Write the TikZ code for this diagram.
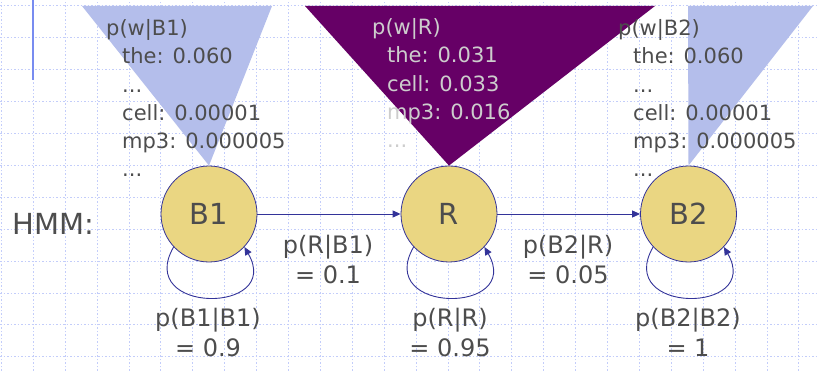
\documentclass[tikz,border=0pt]{standalone}
\usepackage{fontspec}
\setmainfont{DejaVu Sans}
\usetikzlibrary{arrows.meta}
\definecolor{gridblue}{RGB}{195,205,250}
\definecolor{rulerblue}{RGB}{120,140,240}
\definecolor{edgeblue}{RGB}{51,51,153}
\definecolor{statefill}{RGB}{234,214,130}
\definecolor{emitblue}{RGB}{180,190,235}
\definecolor{emitpurple}{RGB}{102,0,102}
\definecolor{textgray}{RGB}{77,77,77}
\definecolor{textlight}{RGB}{205,205,205}

\begin{document}
\begin{tikzpicture}[x=1pt,y=1pt]

    \tikzset{statestyle/.style={draw=edgeblue,line width=0.8pt,fill=statefill,shape=circle,minimum size=96pt,inner sep=0pt,text=textgray,font=\fontsize{29}{35}\selectfont}}
    \tikzset{emitstyle/.style={anchor=base west,inner sep=0pt,align=left,text=textgray,font=\fontsize{21}{28.1}\selectfont}}
    \tikzset{probstyle/.style={anchor=base,inner sep=0pt,align=center,text=textgray,font=\fontsize{24}{30}\selectfont}}

    \useasboundingbox (0,0) rectangle (817,371);
    \fill[white] (0,0) rectangle (817,371);
    % slide grid
    \foreach \i in {0,...,25}
        \draw[gridblue,line width=1pt,dash pattern=on 1.5pt off 2pt] (1.4+31.9*\i,0) -- (1.4+31.9*\i,371);
    \foreach \i in {0,...,11}
        \draw[gridblue,line width=1pt,dash pattern=on 1.5pt off 2pt] (0,365-31.9*\i) -- (817,365-31.9*\i);
    \draw[rulerblue,line width=1.3pt] (33,371) -- (33,291);

    \node[statestyle] (b1) at (209,157) {B1};
    \node[statestyle] (r) at (449,157) {R};
    \node[statestyle] (b2) at (688.5,157) {B2};

    \fill[emitblue] (82,365) -- (272,365) -- (b1.north) -- cycle;
    \fill[emitpurple] (305,365) -- (655,365) -- (r.north) -- cycle;
    \fill[emitblue] (688,365) -- (813,365) -- (b2.north) -- cycle;

    % base anchor of a multi-line node sits on its last line
    \node[emitstyle] (hb1) at (106,335) {p(w|B1)};
    \node[emitstyle] (lb1) at (122,194.6) {the: 0.060\\...\\cell: 0.00001\\mp3: 0.000005\\...};
    \node[emitstyle,text=textlight] (hr) at (372,336) {p(w|R)};
    \node[emitstyle,text=textlight] (lr) at (387,223.7) {the: 0.031\\cell: 0.033\\mp3: 0.016\\...};
    \node[emitstyle] (hb2) at (618,335) {p(w|B2)};
    \node[emitstyle] (lb2) at (633,194.6) {the: 0.060\\...\\cell: 0.00001\\mp3: 0.000005\\...};

    \node[anchor=base west,inner sep=0pt,text=textgray,font=\fontsize{29}{35}\selectfont] (hmm) at (12,136) {HMM:};

    \begin{scope}[every path/.style={draw=edgeblue,line width=0.9pt,-{Triangle[length=8pt,width=7pt]}}]
        \draw (b1) -- (r);
        \draw (r) -- (b2);
        \draw (b1.223) to[out=240,in=300,distance=78pt] (b1.-43);
        \draw (r.223) to[out=240,in=300,distance=78pt] (r.-43);
        \draw (b2.223) to[out=240,in=300,distance=78pt] (b2.-43);
    \end{scope}

    \node[probstyle] (pb1r) at (328,87) {p(R|B1)\\= 0.1};
    \node[probstyle] (prb2) at (568,87) {p(B2|R)\\= 0.05};
    \node[probstyle] (pb1b1) at (208,14) {p(B1|B1)\\= 0.9};
    \node[probstyle] (prr) at (450,14) {p(R|R)\\= 0.95};
    \node[probstyle] (pb2b2) at (688,14) {p(B2|B2)\\= 1};
\end{tikzpicture}
\end{document}
